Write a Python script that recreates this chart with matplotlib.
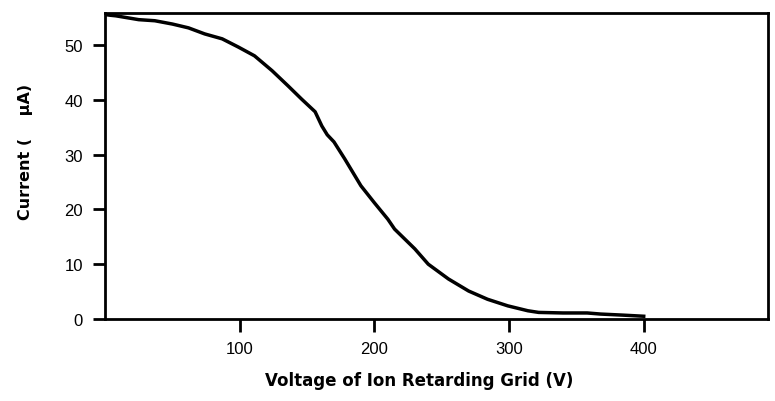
import matplotlib
matplotlib.use("Agg")
import matplotlib.pyplot as plt

voltage = [1, 4, 8, 25, 37, 50, 62, 74, 87, 99, 111, 124, 136, 146, 156, 161, 165, 170,
           178, 190, 200, 210, 215, 230, 240, 255, 270, 284, 299, 314, 322, 340, 358, 368,
           385, 400]
current = [55.5, 55.4, 55.3, 54.6, 54.4, 53.8, 53.1, 52.0, 51.1, 49.6, 48.0, 45.3, 42.5,
           40.1, 37.8, 35.2, 33.6, 32.3, 29.2, 24.3, 21.2, 18.2, 16.4, 12.8, 10.0, 7.3,
           5.1, 3.6, 2.4, 1.5, 1.2, 1.1, 1.1, 0.9, 0.7, 0.5]
xticks = [100, 200, 300, 400]
yticks = [0, 10, 20, 30, 40, 50]

plt.rcParams['font.family'] = ['Liberation Sans', 'DejaVu Sans']

fig = plt.figure(figsize=(7.75, 4.02), dpi=100)
ax = fig.add_axes([0.1355, 0.204, 0.855, 0.761])
ax.plot(voltage, current, color='black', lw=2.5, solid_joinstyle='round')
ax.set_xlim(0, 492)
ax.set_ylim(0, 55.8)
ax.set_xticks(xticks)
ax.set_yticks(yticks)
for s in ax.spines.values():
    s.set_linewidth(2.0)
ax.tick_params(direction='out', length=9, width=2, pad=7, labelsize=12, colors='black')
ax.set_xlabel('Voltage of Ion Retarding Grid (V)', fontsize=12, fontweight='bold',
              family=['DejaVu Sans'])
ax.set_ylabel('Current (    \u03bcA)', fontsize=11.5, fontweight='bold',
              family=['DejaVu Sans'])
ax.xaxis.set_label_coords(0.474, -0.17)
ax.yaxis.set_label_coords(-0.108, 0.55)
fig.savefig('out.png', dpi=100)
